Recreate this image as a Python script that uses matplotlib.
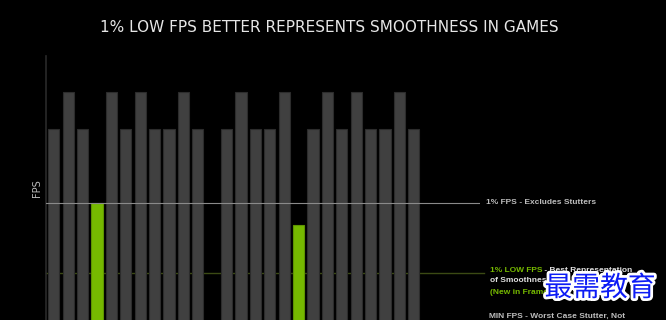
import matplotlib
matplotlib.use("Agg")
import matplotlib.pyplot as plt
import matplotlib.patheffects as pe

# FPS per frame slot (slot 11 is the stutter frame, below the visible area)
fps = [90, 100, 90, 70, 100, 90, 100, 90, 90, 100, 90, 35, 90, 100, 90, 90,
       100, 64, 90, 100, 90, 100, 90, 90, 100, 90]
highlight = [3, 17]          # frames that sit at the 1% low level
one_pct_fps = 70
one_pct_low = 51
min_fps = 35

title = "1% LOW FPS BETTER REPRESENTS SMOOTHNESS IN GAMES"

BG = "black"
GREEN = "#76b900"
GREY_BAR = "#404040"

fig = plt.figure(figsize=(6.66, 3.2), dpi=100, facecolor=BG)
ax = fig.add_axes([46 / 666, 0, 434 / 666, 1 - 56 / 320], facecolor=BG)

x = list(range(len(fps)))
colors = [GREEN if i in highlight else GREY_BAR for i in x]
edges = ["#5f9400" if i in highlight else "#2c2c2c" for i in x]
ax.bar(x, fps, width=0.77, color=colors, edgecolor=edges, linewidth=0.8, zorder=2)

ax.set_xlim(-0.54, 29.6)
ax.set_ylim(38.4, 109.7)

ax.axhline(one_pct_fps, color="#8a8a8a", lw=0.8, zorder=3)
ax.axhline(one_pct_low, xmax=1.01, color="#3b4a14", lw=1.0, zorder=1, clip_on=False)
ax.axhline(min_fps, color="#555555", lw=0.8, zorder=1)

for s in ["top", "right", "bottom"]:
    ax.spines[s].set_visible(False)
ax.spines["left"].set_color("#2a2a2a")
ax.spines["left"].set_linewidth(1.2)
ax.set_xticks([])
ax.set_yticks([])
ax.set_ylabel("FPS", color="#bbbbbb", fontsize=7, labelpad=3)

fig.text(0.495, 1 - 28 / 320, title, ha="center", va="center",
         color="#e6e6e6", fontsize=11, family="Liberation Sans Narrow")

# annotation labels on the right
tfont = dict(fontsize=6, fontweight="bold", family="Liberation Sans")
t = fig.text(486 / 666, 1 - 202 / 320, "1% FPS", color="#bdbdbd", va="center", **tfont)
ax.annotate(" - Excludes Stutters", xy=(1, 0), xycoords=t, va="bottom",
            color="#bdbdbd", **tfont)

t = fig.text(490 / 666, 1 - 270 / 320, "1% LOW FPS", color=GREEN, va="center", **tfont)
ax.annotate(" - Best Representation", xy=(1, 0), xycoords=t, va="bottom",
            color="#e0e0e0", **tfont)
fig.text(490 / 666, 1 - 281 / 320, "of Smoothness", color="#e0e0e0", va="center", **tfont)
fig.text(490 / 666, 1 - 292 / 320, "(New in FrameView)", color=GREEN, va="center", **tfont)
fig.text(489 / 666, 1 - 316 / 320, "MIN FPS - Worst Case Stutter, Not",
         color="#bdbdbd", va="center", **tfont)

# watermark
fig.text(600 / 666, 1 - 288 / 320, "最需教育", ha="center", va="center",
         color="#0d1cf5", fontsize=20, family="Noto Sans CJK SC",
         path_effects=[pe.withStroke(linewidth=4, foreground="white")])

fig.savefig("out.png", dpi=100, facecolor=BG)
